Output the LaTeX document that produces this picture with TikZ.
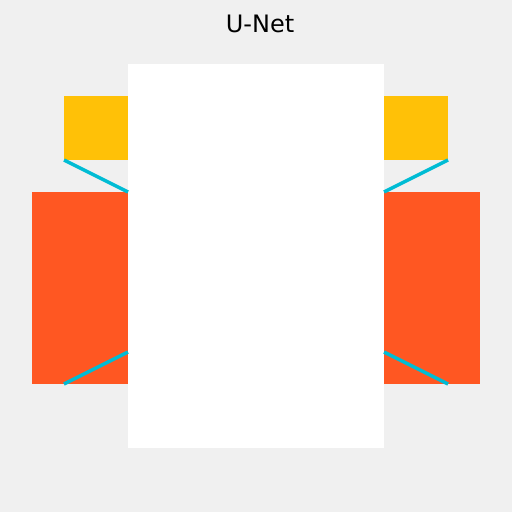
\documentclass[tikz,border=0pt]{standalone}
\usepackage{fontspec}
\setmainfont{DejaVu Sans}
\usetikzlibrary{positioning}

\definecolor{bgcol}{HTML}{F0F0F0}
\definecolor{skipcol}{HTML}{FFC107}
\definecolor{blockcol}{HTML}{FF5722}
\definecolor{linkcol}{HTML}{00BCD4}

\begin{document}
\begin{tikzpicture}
		[x=1pt, y=-1pt,
		 box/.style={rectangle, inner sep=0pt, outer sep=0pt, draw=none},
		 link/.style={draw=linkcol, line width=3.5pt}]
		\fill[bgcol] (0,0) rectangle (512,512);
		\useasboundingbox (0,0) rectangle (512,512);
		\node[font=\fontsize{24}{28}\selectfont] (title) at (260,24) {U-Net};
		\node[box, fill=skipcol, minimum width=64pt, minimum height=64pt] (skipL) at (96,128) {};
		\node[box, fill=skipcol, minimum width=64pt, minimum height=64pt] (skipR) at (416,128) {};
		\node[box, fill=blockcol, minimum width=96pt, minimum height=192pt] (blockL) at (80,288) {};
		\node[box, fill=blockcol, minimum width=96pt, minimum height=192pt] (blockR) at (432,288) {};
		\node[box, fill=white, minimum width=256pt, minimum height=384pt] (core) at (256,256) {};
		\coordinate (lowL) at (64,384);
		\coordinate (lowR) at (448,384);
		\coordinate (inL) at (128,352);
		\coordinate (inR) at (384,352);
		\draw[link] (skipL.south west) -- (core.west |- blockL.north);
		\draw[link] (skipR.south east) -- (core.east |- blockR.north);
		\draw[link] (lowL) -- (inL);
		\draw[link] (lowR) -- (inR);
	\end{tikzpicture}
\end{document}
